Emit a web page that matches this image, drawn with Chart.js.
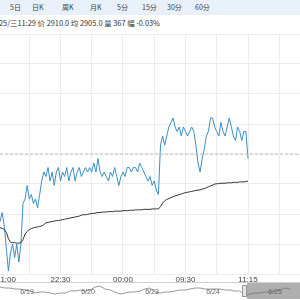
<!DOCTYPE html>
<html><head><meta charset="utf-8">
<script src="https://cdn.jsdelivr.net/npm/chart.js@4/dist/chart.umd.min.js"></script>
<style>
html,body{margin:0;padding:0;width:300px;height:300px;overflow:hidden;background:#fff;position:relative;font-family:"Noto Sans CJK SC","Liberation Sans",sans-serif;}
#bar{position:absolute;left:0;top:0;width:300px;height:15px;background:#e8f0fa;}
.tab{position:absolute;top:0;height:15px;line-height:15px;font-size:7px;color:#444;white-space:nowrap;}
#info{position:absolute;left:-1px;top:18px;height:10px;line-height:10px;font-size:7.4px;color:#333;white-space:nowrap;}
#mainWrap{position:absolute;left:-40px;top:30px;width:380px;height:255px;}
#navWrap{position:absolute;left:0;top:282px;width:300px;height:18px;background:#fff;border-top:1px solid #d0d0d0;}
#navBox{position:absolute;left:0;top:0;width:300px;height:17px;}
</style></head>
<body>
<div id="bar"></div>
<div id="info"></div>
<div id="mainWrap"><canvas id="main"></canvas></div>
<div id="navWrap"><div id="navBox"><canvas id="nav"></canvas></div></div>
<script>
// ---- data ----
const tabs = ['5日','日K','周K','月K','5分','15分','30分','60分'];
const quote = {date:'25/三11:29', price:'2910.0', avg:'2905.0', vol:'367', chg:'-0.03%'};
const timeLabels = ['21:00','22:30','00:00','09:30','11:15','14:45']; // every 90 trading minutes
const stepMin = 3;            // minutes between samples
const prevClose = 2911;
const price = [2896,2896,2898,2895,2890,2885,2889,2891,2888,2891,
 2887,2891,2900,2901,2904,2901,2902,2900,2901,2899,
 2902,2905,2907,2906,2908,2905,2907,2904,2907,2908,
 2905,2907,2906,2908,2905,2907,2908,2905,2907,2908,
 2906,2907,2908,2907,2908,2907,2909,2907,2910,2907,
 2906,2907,2906,2905,2907,2906,2908,2906,2904,2906,
 2907,2906,2908,2908,2907,2908,2908,2907,2909,2908,
 2907,2906,2905,2906,2904,2905,2903,2902,2913,2915,
 2913,2915,2917,2918,2919,2917,2916,2917,2915,2917,
 2916,2915,2916,2917,2916,2913,2909,2907,2910,2912,
 2915,2916,2919,2919,2917,2916,2915,2918,2916,2915,
 2917,2919,2917,2915,2914,2917,2916,2914,2916,2916,
 2910];
const avgPrice = [2894.6,2894.6,2894.5,2894.2,2893.6,2892.2,2891.4,2891.3,2891.3,2891.2,
 2891.2,2891.3,2892.0,2893.2,2893.8,2894.2,2894.4,2894.6,2894.7,2894.8,
 2894.9,2895.0,2895.3,2895.7,2895.8,2895.9,2896.0,2896.1,2896.2,2896.2,
 2896.3,2896.4,2896.5,2896.6,2896.7,2896.8,2896.9,2897.0,2897.1,2897.2,
 2897.4,2897.5,2897.5,2897.6,2897.7,2897.8,2897.8,2897.9,2898.0,2898.0,
 2898.1,2898.1,2898.1,2898.2,2898.2,2898.2,2898.3,2898.3,2898.3,2898.3,
 2898.4,2898.4,2898.4,2898.5,2898.5,2898.5,2898.6,2898.6,2898.6,2898.6,
 2898.7,2898.7,2898.7,2898.7,2898.8,2898.8,2898.8,2898.8,2899.3,2900.1,
 2900.6,2900.9,2901.1,2901.3,2901.5,2901.7,2901.8,2902.0,2902.1,2902.3,
 2902.4,2902.5,2902.6,2902.7,2902.8,2902.9,2903.0,2903.0,2903.2,2903.3,
 2903.5,2903.7,2903.9,2904.1,2904.3,2904.4,2904.4,2904.5,2904.5,2904.5,
 2904.6,2904.6,2904.6,2904.7,2904.7,2904.7,2904.8,2904.8,2904.8,2904.9,
 2905.0];
const navDays = ['6/19','6/20','6/23','6/24','6/25'];
const navDayAt = [5.4,17.6,30.4,42.6,55];   // navigator sample index of each day label
const navSel = [49.4,60];                    // selected range in navigator sample index
const navPrice = [2920,2915,2915,2910,2910,2905,2900,2890,2895,2895,
 2890,2885,2890,2890,2900,2900,2905,2900,2905,2920,
 2925,2910,2905,2895,2885,2890,2895,2895,2900,2910,
 2915,2895,2890,2895,2895,2900,2905,2905,2910,2915,
 2915,2910,2910,2910,2910,2905,2905,2900,2900,2875,
 2885,2890,2890,2895,2895,2900,2905,2915,2910];

// ---- header html ----
const tabLeft = [10,32,62,90,117,142,167,195];
const bar = document.getElementById('bar');
tabs.forEach((t,i)=>{const d=document.createElement('div');d.className='tab';d.style.left=tabLeft[i]+'px';d.textContent=t;bar.appendChild(d);});
document.getElementById('info').textContent =
  quote.date+' 价 '+quote.price+' 均 '+quote.avg+' 量 '+quote.vol+' 幅 '+quote.chg;

Chart.defaults.font.family = '"Liberation Sans", Arial, sans-serif';
Chart.defaults.animation = false;

const X_MIN = -54.72, X_MAX = 492.48;
const gridStep = 20/3;
const pts = a => a.map((v,i)=>({x:i*stepMin, y:v}));

new Chart(document.getElementById('main'), {
  type:'line',
  data:{datasets:[
    {data:[{x:X_MIN,y:prevClose},{x:X_MAX,y:prevClose}], borderColor:'#bdbdbd', borderWidth:1, borderDash:[3,2], pointRadius:0},
    {data:pts(avgPrice), borderColor:'#333', borderWidth:1, pointRadius:0, tension:0},
    {data:pts(price), borderColor:'#3b8ec6', borderWidth:1, pointRadius:0, tension:0}
  ]},
  options:{
    responsive:true, maintainAspectRatio:false,
    layout:{padding:{top:4,left:0,right:0,bottom:0}},
    plugins:{legend:{display:false}, tooltip:{enabled:false}},
    scales:{
      x:{type:'linear', min:X_MIN, max:X_MAX,
        afterBuildTicks:(s)=>{
          const t=[{value:0,lbl:''},{value:11.5,lbl:timeLabels[0],fake:true}];
          for(let k=1;k<=10;k++){ t.push({value:k*45, lbl:(k%2===0)?timeLabels[k/2]:''}); }
          s.ticks=t;
        },
        afterFit:(s)=>{s.height=11;},
        ticks:{autoSkip:false, maxRotation:0, padding:1, color:'#444', font:{size:8},
          callback:(v,i,ticks)=>ticks[i].lbl||''},
        grid:{drawTicks:false, color:(c)=> (c.tick && c.tick.fake) ? 'rgba(0,0,0,0)' : '#ececec'},
        border:{display:false}
      },
      y:{type:'linear', min:prevClose-4*gridStep, max:prevClose+4*gridStep,
        afterBuildTicks:(s)=>{ s.ticks=[-4,-3,-2,-1,0,1,2,3,4].map(k=>({value:prevClose+k*gridStep})); },
        afterFit:(s)=>{s.width=0;},
        ticks:{display:false},
        grid:{drawTicks:false, color:'#ececec'},
        border:{display:false}
      }
    }
  }
});

const navPlugin = {
  id:'navDeco',
  afterDatasetsDraw(chart){
    const ctx=chart.ctx, xs=chart.scales.x, a=chart.chartArea;
    const x0=xs.getPixelForValue(navSel[0]), x1=xs.getPixelForValue(navSel[1]);
    ctx.save();
    ctx.fillStyle='rgba(110,110,110,0.55)';
    ctx.fillRect(x0,a.top,x1-x0,a.bottom-a.top-1);
    ctx.fillStyle='#e4e4e4'; ctx.strokeStyle='#999'; ctx.lineWidth=1;
    ctx.fillRect(x0-4.5,a.top+2.5,4,11); ctx.strokeRect(x0-4.5,a.top+2.5,4,11);
    ctx.font='7px "Liberation Sans", Arial, sans-serif';
    ctx.fillStyle='#666'; ctx.textAlign='center'; ctx.textBaseline='middle';
    navDays.forEach((d,i)=>ctx.fillText(d, xs.getPixelForValue(navDayAt[i]), a.top+9.5));
    ctx.restore();
  }
};
new Chart(document.getElementById('nav'), {
  type:'line',
  data:{labels:navPrice.map((_,i)=>i), datasets:[{data:navPrice.map((v,i)=>({x:i,y:v})), borderColor:'#9a9a9a', borderWidth:1, pointRadius:0}]},
  options:{responsive:true, maintainAspectRatio:false, layout:{padding:0},
    plugins:{legend:{display:false}, tooltip:{enabled:false}},
    scales:{x:{type:'linear',display:false,min:0,max:60}, y:{display:false,min:2855,max:2940}}},
  plugins:[navPlugin]
});
</script>
</body></html>
